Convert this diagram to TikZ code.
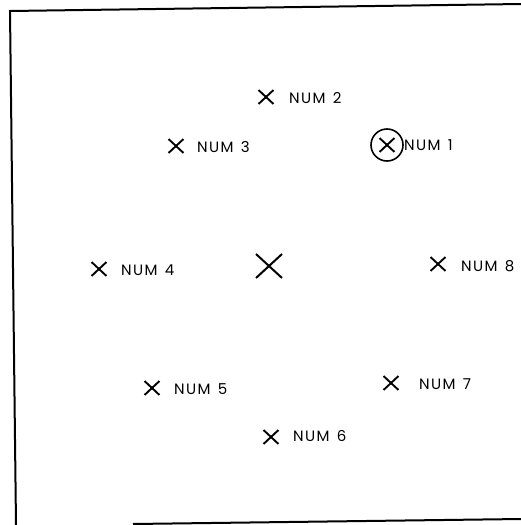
\documentclass[tikz,border=0pt]{standalone}
\usepackage{fontspec}
\setmainfont{Poppins}[LetterSpace=9,WordSpace=1.4]
\usetikzlibrary{shapes.misc}
\begin{document}
\begin{tikzpicture}[x=1pt,y=-1pt,
  xmark/.style={cross out,draw,line width=1.9pt,minimum width=13pt,minimum height=12pt,inner sep=0pt},
  bigxmark/.style={cross out,draw,line width=2pt,minimum width=24pt,minimum height=22pt,inner sep=0pt},
  lbl/.style={anchor=west,inner sep=0pt,font=\fontsize{15}{15}\selectfont},
  frameline/.style={line width=2pt}]
\useasboundingbox (0,0) rectangle (521,525);
\coordinate (tl) at (10,11);
\coordinate (tr) at (521,4);
\coordinate (bl) at (16,525);
\coordinate (bs) at (133,524);
\coordinate (br) at (521,519);
\draw[frameline] (tr) -- (tl) -- (bl);
\draw[frameline] (bs) -- (br);
% marks
\node[xmark] (m2) at (266,97) {};
\node[lbl] (t2) at (289,98) {NUM 2};
\node[xmark] (m3) at (176,146) {};
\node[lbl] (t3) at (197,147) {NUM 3};
\node[xmark] (m1) at (387,145) {};
\node[circle,draw,line width=1.6pt,minimum size=32pt,inner sep=0pt] (c1) at (m1) {};
\node[lbl] (t1) at (404,145) {NUM 1};
\node[xmark] (m4) at (99,269) {};
\node[lbl] (t4) at (121,270) {NUM 4};
\node[bigxmark] (mc) at (269,266) {};
\node[xmark] (m8) at (438,264) {};
\node[lbl] (t8) at (461,266) {NUM 8};
\node[xmark] (m5) at (152,388) {};
\node[lbl] (t5) at (174,389) {NUM 5};
\node[xmark] (m7) at (391,383) {};
\node[lbl] (t7) at (419,384) {NUM 7};
\node[xmark] (m6) at (271,437) {};
\node[lbl] (t6) at (293,436) {NUM 6};
\end{tikzpicture}
\end{document}
